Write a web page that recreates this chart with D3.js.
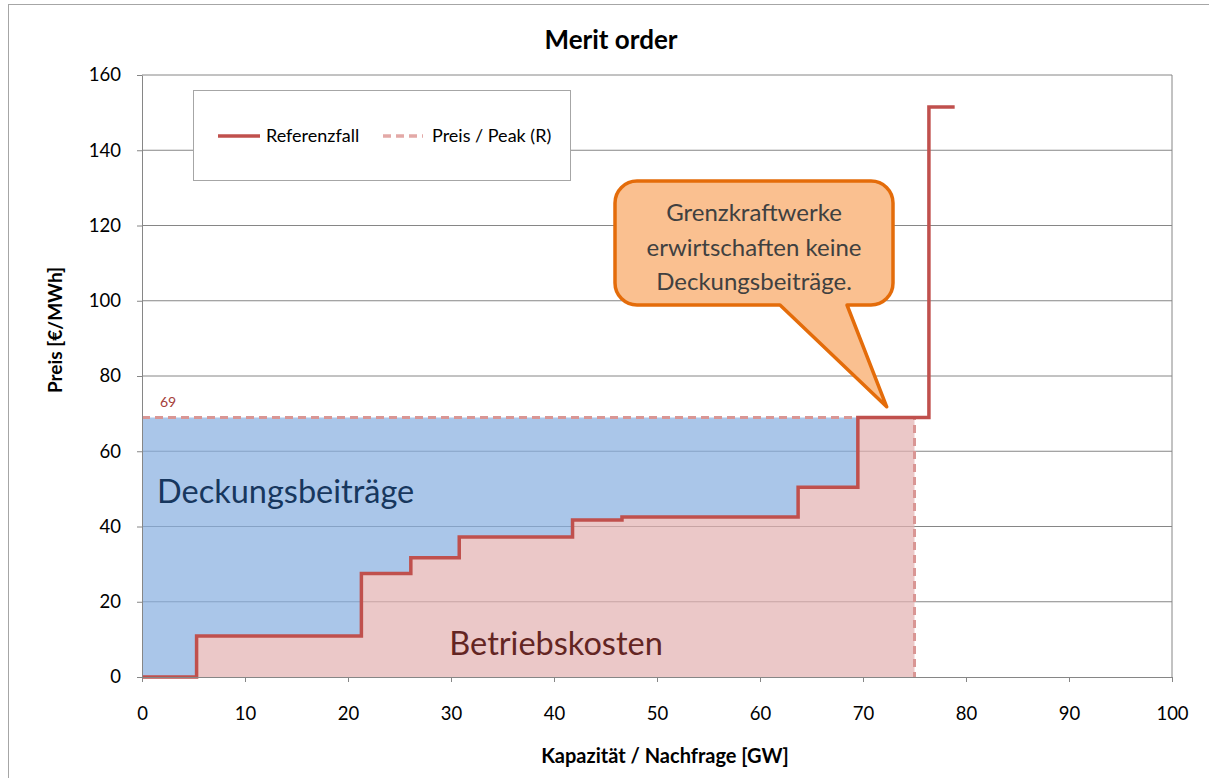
<!DOCTYPE html>
<html>
<head>
<meta charset="utf-8">
<script src="https://cdn.jsdelivr.net/npm/d3@7"></script>
<style>
    body { margin: 0; background: #fff; }
    text { font-family: Lato, "Open Sans", sans-serif; }
</style>
</head>
<body>
<div id="vis"></div>
<script>
// Data -----------------------------------------------------------------------
var capacity = [0, 5.3, 21.3, 26.1, 30.8, 41.8, 46.6, 63.7, 69.5, 76.4, 78.9];   // GW
var price = [0, 10.9, 27.5, 31.7, 37.2, 41.7, 42.5, 50.4, 69, 151.5, 151.5];     // EUR/MWh
var peakPrice = 69;
var peakDemand = 75;
var xTicks = [0, 10, 20, 30, 40, 50, 60, 70, 80, 90, 100];
var yTicks = [0, 20, 40, 60, 80, 100, 120, 140, 160];
var legendLabels = ["Referenzfall", "Preis / Peak (R)"];
var calloutLines = ["Grenzkraftwerke", "erwirtschaften keine", "Deckungsbeiträge."];

// Set graph margins and dimensions
var margin = { top: 75, right: 37, bottom: 101, left: 142 },
    width = 1209 - margin.left - margin.right,
    height = 778 - margin.top - margin.bottom;

var svg = d3.select("#vis").append("svg")
    .attr("width", 1209)
    .attr("height", 778);

// outer chart frame
svg.append("rect")
    .attr("x", 8.5).attr("y", 4.5)
    .attr("width", 1300).attr("height", 900)
    .attr("fill", "none")
    .attr("stroke", "#a6a6a6");

// title
svg.append("text")
    .attr("x", 611).attr("y", 49)
    .attr("text-anchor", "middle")
    .style("font-size", "26px")
    .style("font-weight", "bold")
    .text("Merit order");

var g = svg.append("g")
    .attr("transform", "translate(" + margin.left + "," + margin.top + ")");

// Scales ---------------------------------------------------------------------
var x = d3.scaleLinear().domain([0, 100]).range([0, width]);
var y = d3.scaleLinear().domain([0, 160]).range([height, 0]);

var points = capacity.map(function(c, i) {
    return { x: c, y: price[i] };
});

// gridlines
g.selectAll(".grid")
    .data(yTicks.slice(1))
    .enter().append("line")
    .attr("x1", 0).attr("x2", width)
    .attr("y1", function(d) { return y(d); })
    .attr("y2", function(d) { return y(d); })
    .attr("stroke", "#868686")
    .attr("stroke-width", 1);

g.append("line")
    .attr("x1", width).attr("x2", width)
    .attr("y1", 0).attr("y2", height)
    .attr("stroke", "#868686");

// Areas ----------------------------------------------------------------------
var inPeak = points.filter(function(d) { return d.x <= capacity[8]; });

// Deckungsbeitraege: between price curve and peak price
g.append("path")
    .datum(inPeak)
    .attr("fill", "#86aee0")
    .attr("fill-opacity", 0.7)
    .attr("d", d3.area()
        .curve(d3.curveStepAfter)
        .x(function(d) { return x(d.x); })
        .y0(function(d) { return y(d.y); })
        .y1(y(peakPrice)));

// Betriebskosten: below price curve up to peak demand
var costPts = inPeak.concat([{ x: peakDemand, y: peakPrice }]);
g.append("path")
    .datum(costPts)
    .attr("fill", "#e2b0b0")
    .attr("fill-opacity", 0.7)
    .attr("d", d3.area()
        .curve(d3.curveStepAfter)
        .x(function(d) { return x(d.x); })
        .y0(y(0))
        .y1(function(d) { return y(Math.min(d.y, peakPrice)); }));

// Peak price dashed line
g.append("path")
    .datum([[0, peakPrice], [peakDemand, peakPrice], [peakDemand, 0]])
    .attr("fill", "none")
    .attr("stroke", "#d99694")
    .attr("stroke-width", 3)
    .attr("stroke-dasharray", "8,5")
    .attr("d", d3.line()
        .x(function(d) { return x(d[0]); })
        .y(function(d) { return y(d[1]); }));

// Merit order curve
g.append("path")
    .datum(points)
    .attr("fill", "none")
    .attr("stroke", "#c0504d")
    .attr("stroke-width", 3.5)
    .attr("d", d3.line()
        .curve(d3.curveStepAfter)
        .x(function(d) { return x(d.x); })
        .y(function(d) { return y(d.y); }));

// data label
g.append("text")
    .attr("x", 18).attr("y", y(peakPrice) - 10)
    .attr("fill", "#a5403a")
    .style("font-size", "14px")
    .text(peakPrice);

// area labels
g.append("text")
    .attr("x", 15).attr("y", y(46.3))
    .attr("fill", "#17375e")
    .style("font-size", "32.5px")
    .text("Deckungsbeiträge");

g.append("text")
    .attr("x", x(40.2)).attr("y", y(5.8))
    .attr("text-anchor", "middle")
    .attr("fill", "#632523")
    .style("font-size", "32.5px")
    .text("Betriebskosten");

// Axes -----------------------------------------------------------------------
var xAxis = g.append("g")
    .attr("transform", "translate(0," + height + ")")
    .call(d3.axisBottom(x).tickValues(xTicks).tickSize(5).tickPadding(25).tickSizeOuter(0));
var yAxis = g.append("g")
    .call(d3.axisLeft(y).tickValues(yTicks).tickSize(5).tickPadding(16).tickSizeOuter(0));

[xAxis, yAxis].forEach(function(a) {
    a.select(".domain").attr("stroke", "#868686");
    a.selectAll(".tick line").attr("stroke", "#868686");
    a.selectAll(".tick text")
        .attr("fill", "#000")
        .style("font-family", "Lato, sans-serif")
        .style("font-size", "18.5px");
});

svg.append("text")
    .attr("x", 665).attr("y", 763)
    .attr("text-anchor", "middle")
    .style("font-size", "20px")
    .style("font-weight", "bold")
    .text("Kapazität / Nachfrage [GW]");

svg.append("text")
    .attr("transform", "translate(62,330) rotate(-90)")
    .attr("text-anchor", "middle")
    .style("font-size", "19px")
    .style("font-weight", "bold")
    .text("Preis [€/MWh]");

// Legend ---------------------------------------------------------------------
var legend = svg.append("g").attr("transform", "translate(193,90)");
legend.append("rect")
    .attr("x", 0.5).attr("y", 0.5)
    .attr("width", 377).attr("height", 90)
    .attr("fill", "#fff")
    .attr("stroke", "#a6a6a6");
legend.append("line")
    .attr("x1", 25).attr("x2", 67).attr("y1", 46).attr("y2", 46)
    .attr("stroke", "#c0504d").attr("stroke-width", 3.5);
legend.append("text")
    .attr("x", 73).attr("y", 52)
    .style("font-size", "18px")
    .text(legendLabels[0]);
legend.append("line")
    .attr("x1", 190).attr("x2", 230).attr("y1", 46).attr("y2", 46)
    .attr("stroke", "#e3a9a7").attr("stroke-width", 3.5)
    .attr("stroke-dasharray", "8,5");
legend.append("text")
    .attr("x", 239).attr("y", 52)
    .style("font-size", "18px")
    .text(legendLabels[1]);

// Callout --------------------------------------------------------------------
var bx0 = 615, by0 = 181, bx1 = 893, by1 = 305, r = 22;
var tipX = margin.left + x(72.3), tipY = margin.top + y(71.8);
var callout = d3.path();
callout.moveTo(bx0 + r, by0);
callout.lineTo(bx1 - r, by0);
callout.arcTo(bx1, by0, bx1, by0 + r, r);
callout.lineTo(bx1, by1 - r);
callout.arcTo(bx1, by1, bx1 - r, by1, r);
callout.lineTo(847, by1);
callout.lineTo(tipX, tipY);
callout.lineTo(780, by1);
callout.lineTo(bx0 + r, by1);
callout.arcTo(bx0, by1, bx0, by1 - r, r);
callout.lineTo(bx0, by0 + r);
callout.arcTo(bx0, by0, bx0 + r, by0, r);
callout.closePath();

svg.append("path")
    .attr("d", callout.toString())
    .attr("fill", "#fac090")
    .attr("stroke", "#e46c0a")
    .attr("stroke-width", 3.5)
    .attr("stroke-linejoin", "round");

svg.selectAll(".callout-text")
    .data(calloutLines)
    .enter().append("text")
    .attr("x", 754)
    .attr("y", function(d, i) { return 221 + i * 34.5; })
    .attr("text-anchor", "middle")
    .attr("fill", "#404040")
    .style("font-size", "24px")
    .text(function(d) { return d; });
</script>
</body>
</html>
